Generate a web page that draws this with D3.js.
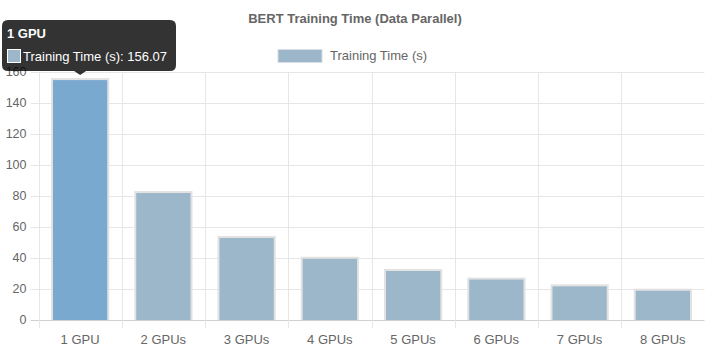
<!DOCTYPE html>
<html>
<head>
<meta charset="utf-8">
<script src="https://cdn.jsdelivr.net/npm/d3@7/dist/d3.min.js"></script>
<style>
  html, body { margin: 0; padding: 0; background: #fff; }
  svg { display: block; }
  text { font-family: "Liberation Sans", Arial, Helvetica, sans-serif; }
</style>
</head>
<body>
<svg id="chart" width="705" height="353"></svg>
<script>
const categories = ["1 GPU", "2 GPUs", "3 GPUs", "4 GPUs", "5 GPUs", "6 GPUs", "7 GPUs", "8 GPUs"];
const trainingTime = [156.07, 83.2, 54.2, 40.8, 32.9, 27.4, 23.0, 20.2];
const yTicks = [0, 20, 40, 60, 80, 100, 120, 140, 160];
const seriesName = "Training Time (s)";
const chartTitle = "BERT Training Time (Data Parallel)";
const hoveredIndex = 0;

const svg = d3.select("#chart");
const plotLeft = 38.5, plotRight = 704.5, plotTop = 72, plotBottom = 320;

const x = d3.scaleBand().domain(categories).range([plotLeft, plotRight]).paddingInner(0).paddingOuter(0);
const y = d3.scaleLinear().domain([0, 160]).range([plotBottom, plotTop]);

const gridColor = "#e6e6e6";
const textColor = "#666";

// horizontal gridlines + y ticks
const gy = svg.append("g");
gy.selectAll("line").data(yTicks).join("line")
  .attr("x1", plotLeft - 8).attr("x2", plotRight)
  .attr("y1", d => Math.round(y(d)) + 0.5).attr("y2", d => Math.round(y(d)) + 0.5)
  .attr("stroke", d => d === 0 ? "#cfcfcf" : gridColor).attr("stroke-width", 1);
gy.selectAll("text").data(yTicks).join("text")
  .attr("x", plotLeft - 12).attr("y", d => y(d)).attr("dy", "0.35em")
  .attr("text-anchor", "end").attr("fill", textColor).attr("font-size", 12.5)
  .text(d => d);

// vertical gridlines at band edges
const edges = categories.map(c => x(c)).concat([plotRight]);
svg.append("g").selectAll("line").data(edges).join("line")
  .attr("x1", d => Math.round(d) + 0.5).attr("x2", d => Math.round(d) + 0.5)
  .attr("y1", plotTop).attr("y2", plotBottom + 8)
  .attr("stroke", gridColor).attr("stroke-width", 1);

// x labels
svg.append("g").selectAll("text").data(categories).join("text")
  .attr("x", d => x(d) + x.bandwidth() / 2).attr("y", 344)
  .attr("text-anchor", "middle").attr("fill", textColor).attr("font-size", 13)
  .text(d => d);

// bars
const barW = x.bandwidth() * 0.7;
const bars = svg.append("g").selectAll("g").data(trainingTime).join("g");
bars.append("rect")
  .attr("x", (d, i) => x(categories[i]) + (x.bandwidth() - barW) / 2)
  .attr("y", d => y(d))
  .attr("width", barW)
  .attr("height", d => plotBottom - y(d))
  .attr("fill", "#e2e2e2");
bars.append("rect")
  .attr("x", (d, i) => x(categories[i]) + (x.bandwidth() - barW) / 2 + 2)
  .attr("y", d => y(d) + 2)
  .attr("width", barW - 4)
  .attr("height", d => plotBottom - y(d) - 2)
  .attr("fill", (d, i) => i === hoveredIndex ? "#7aa9d0" : "#9db7ca");

// title
svg.append("text").attr("x", 355).attr("y", 23).attr("text-anchor", "middle")
  .attr("fill", textColor).attr("font-size", 13).attr("font-weight", "bold")
  .text(chartTitle);

// legend
const lg = svg.append("g");
lg.append("rect").attr("x", 278).attr("y", 49.5).attr("width", 44).attr("height", 13)
  .attr("fill", "#9db7ca").attr("stroke", "#d6dde3").attr("stroke-width", 1);
lg.append("text").attr("x", 330).attr("y", 60).attr("fill", textColor)
  .attr("font-size", 13).text(seriesName);

// tooltip
const cx = x(categories[hoveredIndex]) + x.bandwidth() / 2;
const tipY = y(trainingTime[hoveredIndex]) - 3;
const bx0 = 2, bx1 = 176, by0 = 20, by1 = 71, r = 6;
const p = d3.path();
p.moveTo(bx0 + r, by0);
p.lineTo(bx1 - r, by0);
p.quadraticCurveTo(bx1, by0, bx1, by0 + r);
p.lineTo(bx1, by1 - r);
p.quadraticCurveTo(bx1, by1, bx1 - r, by1);
p.lineTo(cx + 6, by1);
p.lineTo(cx, tipY);
p.lineTo(cx - 6, by1);
p.lineTo(bx0 + r, by1);
p.quadraticCurveTo(bx0, by1, bx0, by1 - r);
p.lineTo(bx0, by0 + r);
p.quadraticCurveTo(bx0, by0, bx0 + r, by0);
p.closePath();
const tt = svg.append("g");
tt.append("path").attr("d", p.toString()).attr("fill", "rgba(0,0,0,0.8)");
tt.append("text").attr("x", 7).attr("y", 37.5).attr("fill", "#fff")
  .attr("font-size", 13).attr("font-weight", "bold").text(categories[hoveredIndex]);
tt.append("rect").attr("x", 7.5).attr("y", 49.5).attr("width", 13).attr("height", 13)
  .attr("fill", "#9db7ca").attr("stroke", "#fff").attr("stroke-width", 1);
tt.append("text").attr("x", 23).attr("y", 61).attr("fill", "#fff")
  .attr("font-size", 13).text(seriesName + ": " + trainingTime[hoveredIndex].toFixed(2));
</script>
</body>
</html>
